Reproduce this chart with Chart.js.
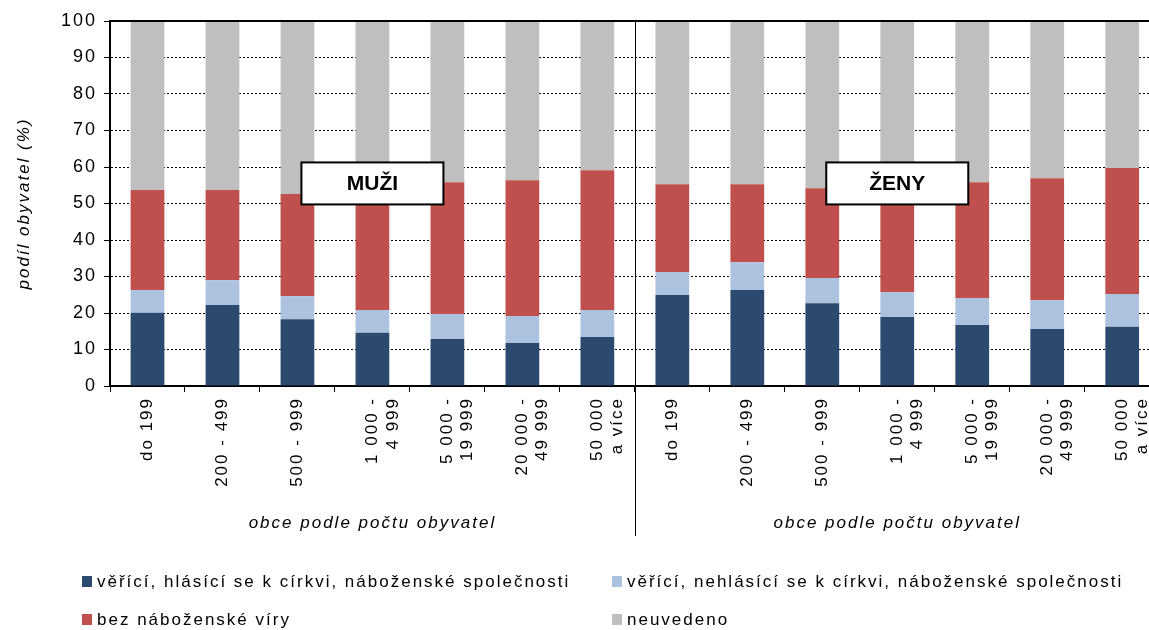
<!DOCTYPE html>
<html>
<head>
<meta charset="utf-8">
<script src="https://cdn.jsdelivr.net/npm/chart.js@4.4.0/dist/chart.umd.min.js"></script>
<style>
  html, body { margin: 0; padding: 0; background: #fff; overflow: hidden; }
  #wrap { width: 1149px; height: 630px; overflow: hidden; }
</style>
</head>
<body>
<div id="wrap"><canvas id="religionChart" width="1168" height="630"></canvas></div>
<script>
// municipality size groups, repeated for men and women
const sizeGroups = [
    ['do 199'], ['200 - 499'], ['500 - 999'],
    ['1 000 -', '4 999'], ['5 000 -', '19 999'],
    ['20 000 -', '49 999'], ['50 000', 'a více']
];
const halves = ['MUŽI', 'ŽENY'];
const axisTitle = 'obce podle počtu obyvatel';

// shares in % (first 7 = men, last 7 = women)
const believersChurch   = [20.1, 22.2, 18.3, 14.6, 12.9, 11.8, 13.4,   24.9, 26.3, 22.7, 18.9, 16.7, 15.6, 16.2];
const believersNoChurch = [6.2, 6.8, 6.3, 6.2, 6.8, 7.4, 7.4,          6.3, 7.6, 6.9, 6.8, 7.4, 7.9, 9.0];
const noReligion        = [27.4, 24.7, 28.0, 33.2, 36.1, 37.2, 38.3,   24.1, 21.4, 24.6, 27.3, 31.7, 33.4, 34.5];
const notStated         = [46.3, 46.3, 47.4, 46.0, 44.2, 43.6, 40.9,   44.7, 44.7, 45.8, 47.0, 44.2, 43.1, 40.3];

const seriesNames = [
    'věřící, hlásící se k církvi, náboženské společnosti',
    'věřící, nehlásící se k církvi, náboženské společnosti',
    'bez náboženské víry',
    'neuvedeno'
];
const seriesColors = ['#2C4A70', '#ACC2DF', '#C0504D', '#BFBFBF'];

const labels = sizeGroups.concat(sizeGroups);
const seriesData = [believersChurch, believersNoChurch, noReligion, notStated];

const FONT = 'Arial, "Liberation Sans", sans-serif';

// the original text is drawn with a wide letter spacing
const spacingPlugin = {
    id: 'spacing',
    beforeDraw(chart) {
        chart.ctx.letterSpacing = '2px';
    }
};

// draws frame top, divider, MUŽI/ŽENY boxes, axis titles and legend
const overlayPlugin = {
    id: 'overlay',
    afterDraw(chart) {
        const { ctx, chartArea: a, scales: { x, y } } = chart;
        ctx.save();

        ctx.strokeStyle = '#000';
        ctx.lineWidth = 2;
        ctx.beginPath();
        ctx.moveTo(a.left, a.top);
        ctx.lineTo(a.right, a.top);
        ctx.stroke();

        const mid = Math.round((x.getPixelForValue(6) + x.getPixelForValue(7)) / 2) + 0.5;
        ctx.lineWidth = 1;
        ctx.beginPath();
        ctx.moveTo(mid, a.top);
        ctx.lineTo(mid, a.bottom + 150);
        ctx.stroke();

        halves.forEach((name, i) => {
            const cx = x.getPixelForValue(i * 7 + 3);
            const cy = y.getPixelForValue(55.5);
            const w = 142, h = 42;
            ctx.fillStyle = '#fff';
            ctx.fillRect(cx - w / 2, cy - h / 2, w, h);
            ctx.lineWidth = 2;
            ctx.strokeRect(cx - w / 2, cy - h / 2, w, h);
            ctx.fillStyle = '#000';
            ctx.letterSpacing = '0px';
            ctx.font = 'bold 21px ' + FONT;
            ctx.textAlign = 'center';
            ctx.textBaseline = 'middle';
            ctx.fillText(name, cx, cy + 1);

            const left = x.getPixelForValue(i * 7);
            const right = x.getPixelForValue(i * 7 + 6);
            ctx.letterSpacing = '2px';
            ctx.font = 'italic 17px ' + FONT;
            ctx.fillText(axisTitle, (left + right) / 2, a.bottom + 137);
        });

        // legend in two columns
        const cols = [82, 612], rows = [582, 620];
        ctx.font = '17px ' + FONT;
        ctx.letterSpacing = '2px';
        ctx.textAlign = 'left';
        ctx.textBaseline = 'middle';
        chart.data.datasets.forEach((ds, i) => {
            const lx = cols[i % 2], ly = rows[Math.floor(i / 2)];
            ctx.fillStyle = ds.backgroundColor;
            ctx.fillRect(lx, ly - 6, 10, 11);
            ctx.fillStyle = '#000';
            ctx.fillText(ds.label, lx + 15, ly);
        });

        ctx.restore();
    }
};

new Chart(document.getElementById('religionChart'), {
    type: 'bar',
    data: {
        labels: labels,
        datasets: seriesNames.map((name, i) => ({
            label: name,
            data: seriesData[i],
            backgroundColor: seriesColors[i],
            borderWidth: 0,
            barPercentage: 0.45,
            categoryPercentage: 1
        }))
    },
    options: {
        responsive: false,
        animation: false,
        devicePixelRatio: 1,
        layout: { padding: { top: 21, left: 0, right: 0, bottom: 0 } },
        plugins: {
            legend: { display: false },
            tooltip: { enabled: false }
        },
        scales: {
            x: {
                stacked: true,
                afterFit: (scale) => { scale.height = 244; },
                grid: {
                    offset: true,
                    drawOnChartArea: false,
                    drawTicks: true,
                    tickLength: 6,
                    color: '#000',
                    tickColor: '#000'
                },
                border: { color: '#000', width: 2 },
                ticks: {
                    color: '#000',
                    font: { family: FONT, size: 17 },
                    minRotation: 90,
                    maxRotation: 90,
                    autoSkip: false,
                    padding: 5
                }
            },
            y: {
                stacked: true,
                min: 0,
                max: 100,
                afterFit: (scale) => { scale.width = 110; },
                grid: {
                    color: '#000',
                    lineWidth: 1,
                    tickLength: 6,
                    tickColor: '#000',
                    tickBorderDash: []
                },
                border: { color: '#000', width: 2, dash: [2, 2] },
                ticks: {
                    stepSize: 10,
                    color: '#000',
                    font: { family: FONT, size: 18 },
                    padding: 7
                },
                title: {
                    display: true,
                    text: 'podíl obyvatel (%)',
                    color: '#000',
                    font: { family: FONT, size: 17, style: 'italic' },
                    padding: { top: 14, bottom: 0 }
                }
            }
        }
    },
    plugins: [spacingPlugin, overlayPlugin]
});
</script>
</body>
</html>
